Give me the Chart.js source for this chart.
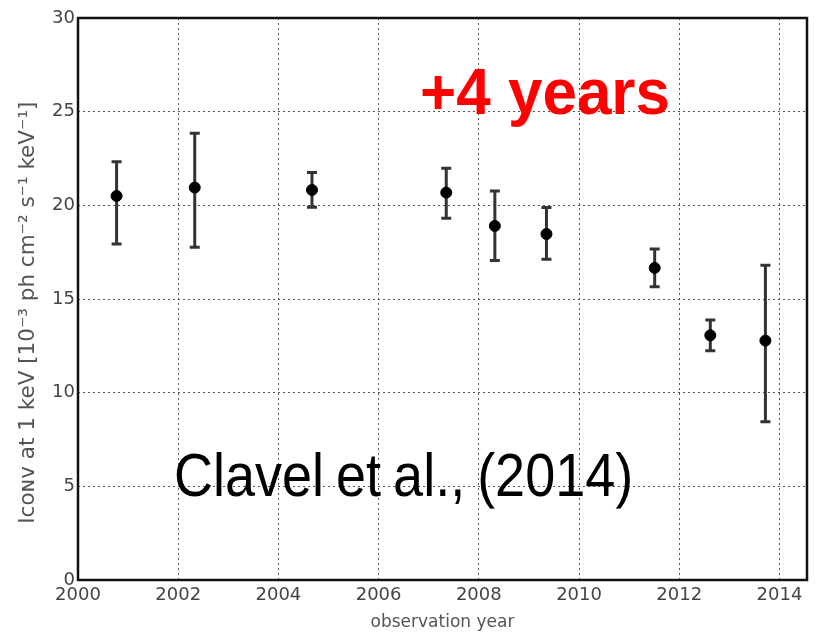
<!DOCTYPE html>
<html lang="en">
<head>
  <meta charset="UTF-8" />
  <title>Iconv at 1 keV vs observation year</title>
  <script src="https://cdn.jsdelivr.net/npm/chart.js"></script>
  <style>
    body { margin: 0; padding: 0; background: #fff; }
    .wrap { position: relative; width: 815px; height: 633px; }
    .note { position: absolute; font-family: 'Liberation Sans', Arial, sans-serif; white-space: nowrap; line-height: 1; }
    .red { left: 420px; top: 59px; font-size: 62px; font-weight: bold; color: #ff0000; transform: scaleY(1.06); transform-origin: left top; }
    .cite { left: 174px; top: 444px; font-size: 54px; color: #000; word-spacing: -3px; transform: scaleY(1.13); transform-origin: left top; }
  </style>
</head>
<body>
  <div class="wrap">
    <canvas id="chart" width="815" height="633"></canvas>
    <div class="note red">+4 years</div>
    <div class="note cite">Clavel et al., (2014)</div>
  </div>

  <script>
    // observation dates and measured flux (with error bar limits)
    const years = [2000.77, 2002.33, 2004.67, 2007.35, 2008.32, 2009.35, 2011.51, 2012.62, 2013.72];
    const flux = [20.5, 20.95, 20.82, 20.68, 18.9, 18.47, 16.66, 13.06, 12.78];
    const fluxHigh = [22.33, 23.85, 21.75, 21.98, 20.77, 19.88, 17.67, 13.88, 16.8];
    const fluxLow = [17.94, 17.76, 19.9, 19.31, 17.05, 17.12, 15.66, 12.24, 8.45];
    const xTicks = [2000, 2002, 2004, 2006, 2008, 2010, 2012, 2014];
    const yTicks = [0, 5, 10, 15, 20, 25, 30];

    const points = years.map((x, i) => ({ x: x, y: flux[i] }));

    const errorBars = {
      id: 'errorBars',
      beforeDatasetsDraw(chart) {
        const ctx = chart.ctx;
        const xs = chart.scales.x, ys = chart.scales.y;
        ctx.save();
        ctx.strokeStyle = '#333';
        ctx.lineWidth = 3;
        years.forEach((yr, i) => {
          const px = xs.getPixelForValue(yr);
          const top = ys.getPixelForValue(fluxHigh[i]);
          const bot = ys.getPixelForValue(fluxLow[i]);
          ctx.beginPath();
          ctx.moveTo(px, top); ctx.lineTo(px, bot);
          ctx.moveTo(px - 5, top); ctx.lineTo(px + 5, top);
          ctx.moveTo(px - 5, bot); ctx.lineTo(px + 5, bot);
          ctx.stroke();
        });
        ctx.restore();
      }
    };

    const frame = {
      id: 'frame',
      afterDraw(chart) {
        const a = chart.chartArea, ctx = chart.ctx;
        ctx.save();
        ctx.strokeStyle = '#111';
        ctx.lineWidth = 2.5;
        ctx.strokeRect(a.left, a.top, a.right - a.left, a.bottom - a.top);
        ctx.restore();
      }
    };

    const tickFont = { family: "'DejaVu Sans', sans-serif", size: 18 };

    new Chart(document.getElementById('chart').getContext('2d'), {
      type: 'scatter',
      data: {
        datasets: [{
          data: points,
          backgroundColor: '#000',
          borderColor: '#000',
          pointRadius: 5.5,
          pointHoverRadius: 5.5
        }]
      },
      options: {
        responsive: false,
        animation: false,
        layout: { padding: { left: 0, top: 18, right: 8, bottom: 0 } },
        plugins: { legend: { display: false }, tooltip: { enabled: false } },
        scales: {
          x: {
            type: 'linear',
            min: 2000,
            max: 2014.55,
            afterBuildTicks: s => { s.ticks = xTicks.map(v => ({ value: v })); },
            afterFit: s => { s.height = 53; },
            ticks: { color: '#444', font: tickFont, padding: 5, maxRotation: 0, callback: v => String(v) },
            grid: { color: '#555', lineWidth: 1, drawTicks: false },
            border: { display: false, dash: [2, 3] },
            title: { display: true, text: 'observation year', color: '#555', font: { family: "'DejaVu Sans', sans-serif", size: 17 }, padding: { top: 0, bottom: 0 } }
          },
          y: {
            min: 0,
            max: 30,
            afterBuildTicks: s => { s.ticks = yTicks.map(v => ({ value: v })); },
            afterFit: s => { s.width = 78; },
            ticks: { color: '#444', font: tickFont, padding: 3 },
            grid: { color: '#555', lineWidth: 1, drawTicks: false },
            border: { display: false, dash: [2, 3] },
            title: { display: true, text: 'Iᴄᴏɴᴠ at 1 keV [10⁻³ ph cm⁻² s⁻¹ keV⁻¹]\u00a0\u00a0\u00a0\u00a0', color: '#555', font: { family: "'DejaVu Sans', sans-serif", size: 21.5 }, padding: { top: 16, bottom: 0 } }
          }
        }
      },
      plugins: [errorBars, frame]
    });
  </script>
</body>
</html>
